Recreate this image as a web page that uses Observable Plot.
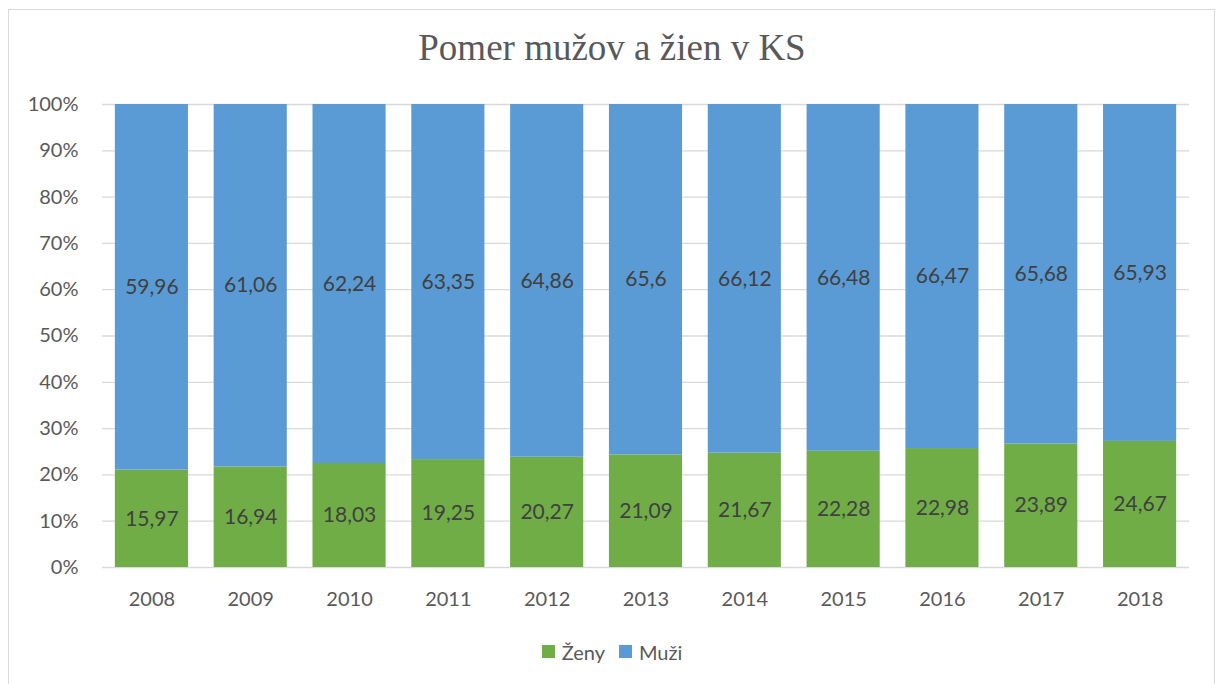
<!DOCTYPE html>
<html>
<head>
<meta charset="utf-8">
<script src="https://cdn.jsdelivr.net/npm/d3@7"></script>
<script src="https://cdn.jsdelivr.net/npm/@observablehq/plot@0.6"></script>
<style>
  html, body { margin: 0; padding: 0; background: #fff; }
  #wrap { position: relative; width: 1224px; height: 684px; overflow: hidden; }
  #frame { position: absolute; left: 8px; top: 9px; width: 1207px; height: 690px; border: 1px solid #d9d9d9; box-sizing: border-box; }
  #title { position: absolute; left: 0; width: 1224px; top: 26px; text-align: center;
    font-family: "Liberation Serif", "Times New Roman", serif; font-size: 37px; color: #595959; }
  #chart { position: absolute; left: 0; top: 84px; }
  #legend { position: absolute; left: 0; width: 1224px; top: 638px; text-align: center;
    font-family: Lato, sans-serif; font-size: 20px; color: #595959; }
  #legend span.item { display: inline-flex; align-items: center; margin: 0 7px; }
  #legend span.sw { display: inline-block; width: 13px; height: 13px; margin-right: 7px; }
</style>
</head>
<body>
<div id="wrap">
  <div id="frame"></div>
  <div id="title">Pomer mužov a žien v KS</div>
  <div id="chart"></div>
  <div id="legend"></div>
</div>
<script>
const years = ["2008","2009","2010","2011","2012","2013","2014","2015","2016","2017","2018"];
const zeny = [15.97, 16.94, 18.03, 19.25, 20.27, 21.09, 21.67, 22.28, 22.98, 23.89, 24.67];
const muzi = [59.96, 61.06, 62.24, 63.35, 64.86, 65.6, 66.12, 66.48, 66.47, 65.68, 65.93];
const seriesNames = ["Ženy", "Muži"];
const seriesColors = ["#70AD47", "#5B9BD5"];
const yTicks = [0, 0.1, 0.2, 0.3, 0.4, 0.5, 0.6, 0.7, 0.8, 0.9, 1];

const data = [];
years.forEach((y, i) => {
  data.push({year: y, series: seriesNames[0], value: zeny[i]});
  data.push({year: y, series: seriesNames[1], value: muzi[i]});
});
const fmt = v => String(v).replace(".", ",");

const stackOpts = {x: "year", y: "value", z: "series", offset: "normalize", order: seriesNames};

const plot = Plot.plot({
  width: 1224,
  height: 540,
  marginLeft: 102,
  marginRight: 35,
  marginTop: 20,
  marginBottom: 57,
  style: {fontFamily: "Lato, sans-serif", fontSize: "20px", color: "#595959", background: "transparent"},
  x: {domain: years, paddingInner: 0.26, paddingOuter: 0.13, round: false, label: null},
  y: {domain: [0, 1], label: null},
  color: {domain: seriesNames, range: seriesColors},
  marks: [
    Plot.ruleY(yTicks, {stroke: "#d9d9d9", strokeWidth: 1.3}),
    Plot.barY(data, Plot.stackY({...stackOpts, fill: "series"})),
    Plot.text(data, Plot.stackY({...stackOpts, text: d => fmt(d.value), fill: "#404040", fontSize: 21})),
    Plot.axisX({tickSize: 0, tickPadding: 24, fontSize: 20, fill: "#595959", label: null}),
    Plot.axisY({ticks: yTicks, tickSize: 0, tickPadding: 24, tickFormat: d => Math.round(d * 100) + "%", fontSize: 20, fill: "#595959", label: null})
  ]
});
document.getElementById("chart").appendChild(plot);

const legend = document.getElementById("legend");
seriesNames.forEach((n, i) => {
  const item = document.createElement("span");
  item.className = "item";
  const sw = document.createElement("span");
  sw.className = "sw";
  sw.style.background = seriesColors[i];
  item.appendChild(sw);
  item.appendChild(document.createTextNode(n));
  legend.appendChild(item);
});
</script>
</body>
</html>
